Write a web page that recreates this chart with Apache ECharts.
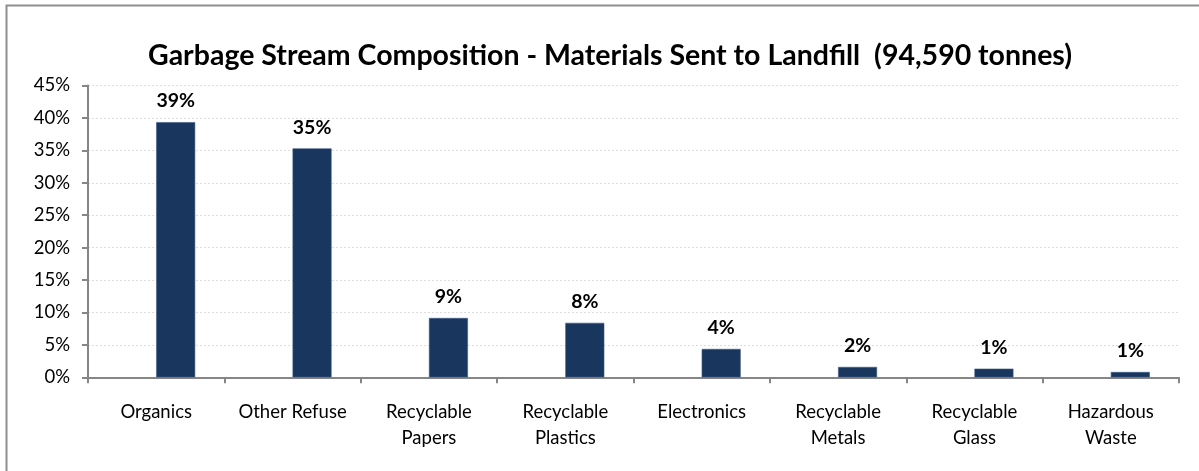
<!DOCTYPE html>
<html>
<head>
<meta charset="utf-8">
<script src="https://cdn.jsdelivr.net/npm/echarts@6/dist/echarts.min.js"></script>
<style>
html,body{margin:0;padding:0;background:#fff;}
#chart{width:1199px;height:471px;}
</style>
</head>
<body>
<div id="chart"></div>
<script>
const titleText = 'Garbage Stream Composition - Materials Sent to Landfill  (94,590 tonnes)';
const categories = ['Organics', 'Other Refuse', 'Recyclable\nPapers', 'Recyclable\nPlastics', 'Electronics', 'Recyclable\nMetals', 'Recyclable\nGlass', 'Hazardous\nWaste'];
const shares = [39.35, 35.3, 9.15, 8.4, 4.37, 1.6, 1.33, 0.82];
const placeholder = [null, null, null, null, null, null, null, null];
const yTicks = { min: 0, max: 45, interval: 5 };

const font = 'Lato, "Open Sans", sans-serif';
const chart = echarts.init(document.getElementById('chart'));
chart.setOption({
  animation: false,
  backgroundColor: '#fff',
  graphic: [{
    type: 'rect', shape: { x: 6.5, y: 5.5, width: 1400, height: 800 },
    style: { fill: 'none', stroke: '#8e8e8e', lineWidth: 2 }, silent: true, z: -1
  }],
  title: {
    text: titleText, left: 143, top: 36,
    textStyle: { fontFamily: font, fontWeight: 'bold', fontSize: 28.5, color: '#000' }
  },
  grid: { left: 88, right: 20, top: 85.5, bottom: 93.7, containLabel: false },
  xAxis: {
    type: 'category', data: categories,
    axisLine: { lineStyle: { color: '#868686', width: 2 } },
    axisTick: { show: true, length: 6, lineStyle: { color: '#868686', width: 2 } },
    axisLabel: { fontFamily: font, fontSize: 18.5, color: '#000', margin: 22, lineHeight: 26, interval: 0 }
  },
  yAxis: {
    type: 'value', min: yTicks.min, max: yTicks.max, interval: yTicks.interval,
    axisLine: { show: true, lineStyle: { color: '#868686', width: 2 } },
    axisTick: { show: true, length: 6, lineStyle: { color: '#868686', width: 2 } },
    axisLabel: { fontFamily: font, fontSize: 18.5, color: '#000', margin: 18, formatter: '{value}%' },
    splitLine: { lineStyle: { color: '#dcdcdc', type: [2, 2], width: 1 } }
  },
  series: [
    { type: 'bar', data: placeholder, barWidth: 39, barGap: '0%', silent: true },
    {
      type: 'bar', data: shares, barWidth: 39, barGap: '0%',
      itemStyle: { color: '#18365e', borderColor: '#3f5c85', borderWidth: 0.6 },
      label: {
        show: true, position: 'top', distance: 11,
        fontFamily: font, fontWeight: 'bold', fontSize: 19.5, color: '#000',
        formatter: p => Math.round(p.value) + '%'
      }
    }
  ]
});
</script>
</body>
</html>
